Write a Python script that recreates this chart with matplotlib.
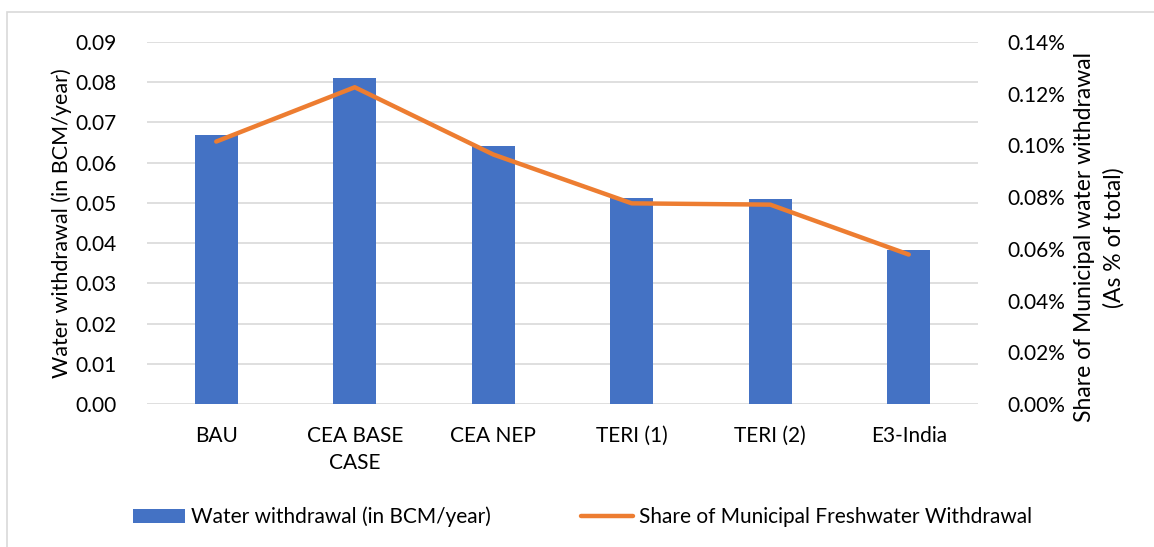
import matplotlib
matplotlib.use("Agg")
import matplotlib.pyplot as plt
from matplotlib.patches import Rectangle, Patch
from matplotlib.lines import Line2D
from matplotlib.ticker import FuncFormatter

categories = ["BAU", "CEA BASE\nCASE", "CEA NEP", "TERI (1)", "TERI (2)", "E3-India"]
withdrawal = [0.0669, 0.0810, 0.0642, 0.0512, 0.0510, 0.0383]
share_pct = [0.1015, 0.1225, 0.0965, 0.0776, 0.0771, 0.0578]
left_ticks = [0.00, 0.01, 0.02, 0.03, 0.04, 0.05, 0.06, 0.07, 0.08, 0.09]
right_ticks = [0.00, 0.02, 0.04, 0.06, 0.08, 0.10, 0.12, 0.14]

plt.rcParams['font.family'] = ['Lato', 'DejaVu Sans']
W, H = 1154, 547
fig = plt.figure(figsize=(W / 100, H / 100), dpi=100)

# outer chart frame
fig.patches.append(Rectangle((7 / W, -0.1), 1.2, 1 - 12 / H + 0.1, transform=fig.transFigure,
                             fill=False, edgecolor='#d9d9d9', linewidth=1.2))

ax = fig.add_axes([147 / W, 1 - 404 / H, (978 - 147) / W, (404 - 42) / H])
ax2 = ax.twinx()

x = list(range(len(categories)))
ax.bar(x, withdrawal, width=0.31, color='#4472C4', zorder=3)
ax.set_ylim(0, 0.09)
ax.set_xlim(-0.5, len(categories) - 0.5)
ax.set_yticks(left_ticks)
ax.yaxis.set_major_formatter(FuncFormatter(lambda v, p: f"{v:.2f}"))
ax.grid(axis='y', color='#d9d9d9', linewidth=1.2, zorder=0)
ax.set_axisbelow(True)
for s in ax.spines.values():
    s.set_visible(False)
ax.tick_params(axis='both', length=0, labelsize=15, colors='black')
ax.tick_params(axis='y', pad=22)
ax.set_xticks(x)
ax.set_xticklabels(categories, linespacing=1.45)
ax.tick_params(axis='x', pad=16)
ax.set_ylabel("Water withdrawal (in BCM/year)", fontsize=15.5, labelpad=2)

ax2.plot(x, share_pct, color='#ED7D31', linewidth=3.2, solid_capstyle='round', zorder=4)
ax2.set_ylim(0, 0.14)
ax2.set_yticks(right_ticks)
ax2.yaxis.set_major_formatter(FuncFormatter(lambda v, p: f"{v:.2f}%"))
for s in ax2.spines.values():
    s.set_visible(False)
ax2.tick_params(axis='y', length=0, labelsize=15, pad=21)
ax2.set_ylabel("Share of Municipal water withdrawal\n(As % of total)", fontsize=16.5,
               linespacing=1.45)
ax2.yaxis.set_label_coords(1.116, 0.46)

handles = [Patch(facecolor='#4472C4', edgecolor='none'),
           Line2D([0], [0], color='#ED7D31', linewidth=3.2, solid_capstyle='round')]
labels = ["Water withdrawal (in BCM/year)", "Share of Municipal Freshwater Withdrawal"]
fig.legend(handles, labels, loc='center', bbox_to_anchor=(0.505, 1 - 517 / H), ncol=2,
           frameon=False, fontsize=15, handlelength=2.5, handletextpad=0.3, columnspacing=4.3,
           handleheight=0.6)

fig.savefig("out.png", dpi=100)
